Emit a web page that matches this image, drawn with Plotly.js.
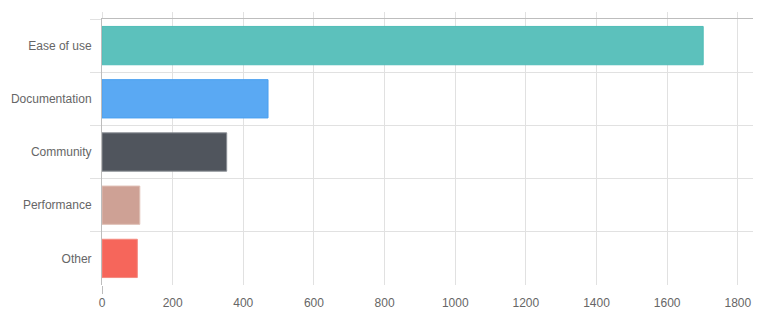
<!DOCTYPE html>
<html>
<head>
<meta charset="utf-8">
<script src="https://cdn.plot.ly/plotly-3.0.1.min.js"></script>
<style>html,body{margin:0;padding:0;background:#fff;}#chart{width:765px;height:326px;}</style>
</head>
<body>
<div id="chart"></div>
<script>
const categories = ["Ease of use", "Documentation", "Community", "Performance", "Other"];
const values = [1702, 470, 353, 107, 100];
const barColors = ["#5cc1bc", "#5aa9f3", "#50555d", "#cea195", "#f6665b"];
const lineColors = ["#4fbdb7", "#4aa0f0", "#8a8e94", "#e0c0b6", "#f48a80"];
const xTickStep = 200;
const xMax = 1843;

const font = {family: "Liberation Sans, Arial, sans-serif", size: 12, color: "#666666"};

const trace = {
  type: "bar",
  orientation: "h",
  y: categories,
  x: values,
  marker: {color: barColors, line: {color: lineColors, width: 1}},
  hoverinfo: "x+y"
};

const layout = {
  width: 765, height: 326,
  margin: {l: 102, r: 12, t: 19, b: 41, pad: 0},
  paper_bgcolor: "#ffffff", plot_bgcolor: "#ffffff",
  showlegend: false,
  bargap: 0.28,
  font: font,
  xaxis: {
    range: [0, xMax], dtick: xTickStep, tick0: 0,
    showgrid: true, gridcolor: "#e1e1e1", gridwidth: 1,
    zeroline: false, showline: false,
    ticks: "", tickfont: font, ticklabelstandoff: 9, fixedrange: true
  },
  xaxis2: {
    overlaying: "x", side: "top", matches: "x", range: [0, xMax], dtick: xTickStep, tick0: 0,
    showgrid: false, zeroline: false, showline: true, linecolor: "#bdbdbd", linewidth: 1,
    ticks: "outside", ticklen: 6, tickcolor: "#e1e1e1", showticklabels: false
  },
  xaxis3: {
    overlaying: "x", side: "bottom", anchor: "y", range: [0, xMax], tickmode: "array", tickvals: [0],
    showgrid: false, zeroline: false, showline: false,
    ticks: "outside", ticklen: 8, tickcolor: "#bdbdbd", tickwidth: 1, showticklabels: false
  },
  yaxis: {
    type: "category", autorange: "reversed",
    tickson: "boundaries", ticks: "outside", ticklen: 11, tickcolor: "#e1e1e1",
    showgrid: true, gridcolor: "#e1e1e1", gridwidth: 1,
    showline: true, linecolor: "#bdbdbd", linewidth: 1,
    zeroline: false, tickfont: font, ticklabelstandoff: 7, fixedrange: true
  }
};

const traces = [
  trace,
  {type: "scatter", x: [0], y: [categories[0]], mode: "markers", marker: {opacity: 0}, xaxis: "x2", yaxis: "y", hoverinfo: "skip", showlegend: false},
  {type: "scatter", x: [0], y: [categories[0]], mode: "markers", marker: {opacity: 0}, xaxis: "x3", yaxis: "y", hoverinfo: "skip", showlegend: false}
];

Plotly.newPlot("chart", traces, layout, {displayModeBar: false, staticPlot: true});
</script>
</body>
</html>
